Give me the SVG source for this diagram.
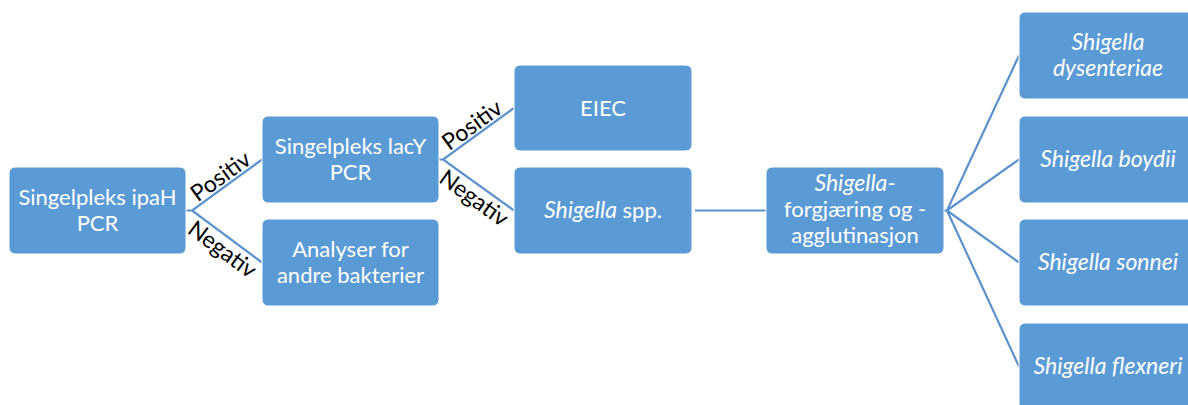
<svg xmlns="http://www.w3.org/2000/svg" width="1188" height="405" viewBox="0 0 1188 405">
  <style>
    .box { fill: #5b9bd5; stroke: #ffffff; stroke-width: 1; }
    .t { font-family: Lato, "Liberation Sans", sans-serif; font-size: 22px; fill: #ffffff; text-anchor: middle; }
    .i { font-style: italic; font-size: 23px; }
    .conn { stroke: #5a92cc; stroke-width: 2.2; fill: none; }
    .lbl { font-family: Lato, "Liberation Sans", sans-serif; font-size: 23px; fill: #000000; text-anchor: middle; }
  </style>
  <rect width="1188" height="405" fill="#ffffff"/>

  <g id="connectors">
    <path class="conn" d="M186,210.5 L192,210.5 M262,159.5 L192,210.5 L262,262.5"/>
    <path class="conn" d="M439,159.5 L443,159.5 M514,108 L443,159.5 L514,210.5"/>
    <path class="conn" d="M695,210.5 L766,210.5"/>
    <path class="conn" d="M944,210.5 L947,210.5 M1019,55.5 L947,210.5 M1019,159.5 L947,210.5 M1019,262.5 L947,210.5 M1019,366.5 L947,210.5"/>
    <g transform="translate(227,185) rotate(-35.8)"><text class="lbl" x="0" y="-3">Positiv</text></g>
    <g transform="translate(227,236.5) rotate(36.6)"><text class="lbl" x="4" y="21">Negativ</text></g>
    <g transform="translate(478.5,133.75) rotate(-35.9)"><text class="lbl" x="0" y="-3">Positiv</text></g>
    <g transform="translate(478.5,185) rotate(35.7)"><text class="lbl" x="4" y="21">Negativ</text></g>
  </g>

  <g id="node-ipah">
    <rect class="box" x="9" y="167" width="177" height="87" rx="6"/>
    <text class="t" x="97.5" y="205">Singelpleks ipaH</text>
    <text class="t" x="97.5" y="231">PCR</text>
  </g>
  <g id="node-lacy">
    <rect class="box" x="262" y="116" width="177" height="87" rx="6"/>
    <text class="t" x="350.5" y="154">Singelpleks lacY</text>
    <text class="t" x="350.5" y="180">PCR</text>
  </g>
  <g id="node-andre">
    <rect class="box" x="262" y="219" width="177" height="87" rx="6"/>
    <text class="t" x="350.5" y="257">Analyser for</text>
    <text class="t" x="350.5" y="283">andre bakterier</text>
  </g>
  <g id="node-eiec">
    <rect class="box" x="514" y="65" width="178" height="86" rx="6"/>
    <text class="t" x="603" y="115.5">EIEC</text>
  </g>
  <g id="node-spp">
    <rect class="box" x="514" y="167" width="178" height="87" rx="6"/>
    <text class="t" x="603" y="218"><tspan class="i">Shigella</tspan> spp.</text>
  </g>
  <g id="node-agglutinasjon">
    <rect class="box" x="766" y="167" width="178" height="87" rx="6"/>
    <text class="t" x="855" y="191"><tspan class="i">Shigella</tspan>-</text>
    <text class="t" x="855" y="217">forgjæring og -</text>
    <text class="t" x="855" y="243">agglutinasjon</text>
  </g>
  <g id="node-dysenteriae">
    <rect class="box" x="1019" y="12" width="178" height="87" rx="6"/>
    <text class="t i" x="1108" y="50">Shigella</text>
    <text class="t i" x="1108" y="76">dysenteriae</text>
  </g>
  <g id="node-boydii">
    <rect class="box" x="1019" y="116" width="178" height="87" rx="6"/>
    <text class="t i" x="1108" y="167">Shigella boydii</text>
  </g>
  <g id="node-sonnei">
    <rect class="box" x="1019" y="219" width="178" height="87" rx="6"/>
    <text class="t i" x="1108" y="270">Shigella sonnei</text>
  </g>
  <g id="node-flexneri">
    <rect class="box" x="1019" y="323" width="178" height="87" rx="6"/>
    <text class="t i" x="1108" y="374">Shigella flexneri</text>
  </g>
</svg>
